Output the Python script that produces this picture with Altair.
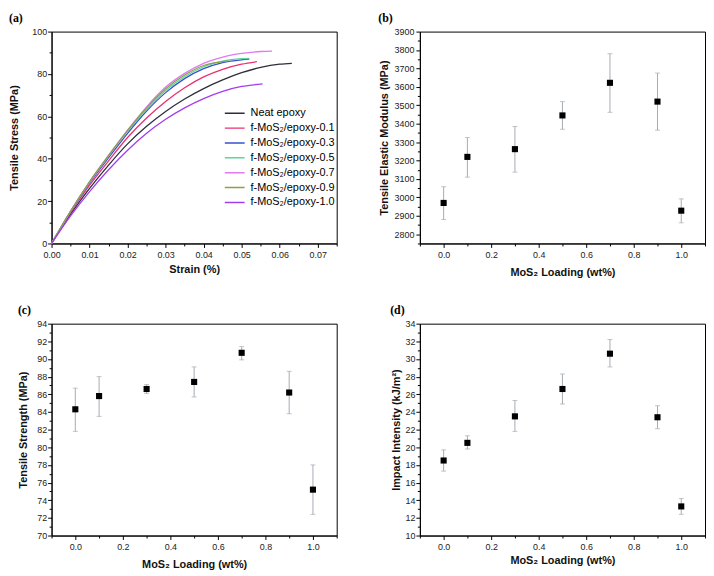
import altair as alt
import pandas as pd

# ---------------- Panel (a): stress-strain curves ----------------
series_names = ["Neat epoxy", "f-MoS₂/epoxy-0.1", "f-MoS₂/epoxy-0.3", "f-MoS₂/epoxy-0.5",
                "f-MoS₂/epoxy-0.7", "f-MoS₂/epoxy-0.9", "f-MoS₂/epoxy-1.0"]
series_colors = ["#2e2e3a", "#e8306f", "#3a4fd2", "#5fd49e", "#e27af0", "#8aa04a", "#a23cf2"]

strain_neat = [0, .005, .01, .015, .02, .025, .03, .035, .04, .045, .05, .055, .06, .0632]
stress_neat = [0, 13.8, 26, 37, 47, 55.3, 62.3, 68.2, 73.1, 77.2, 80.6, 83.1, 84.6, 85.0]
strain_01 = [0, .005, .01, .015, .02, .025, .03, .035, .04, .045, .05, .054]
stress_01 = [0, 14.5, 27.5, 39, 50, 59.2, 67, 73.5, 78.6, 82.2, 84.6, 85.8]
strain_03 = [0, .005, .01, .015, .02, .025, .03, .035, .04, .045, .05, .052]
stress_03 = [0, 15, 28.5, 40.5, 52, 62.5, 71.2, 77.8, 82.5, 85.4, 86.7, 87.0]
strain_05 = [0, .005, .01, .015, .02, .025, .03, .035, .04, .045, .05, .052]
stress_05 = [0, 15.2, 29, 41.3, 53, 63.3, 72.2, 78.7, 83.4, 86.1, 87.2, 87.4]
strain_07 = [0, .005, .01, .015, .02, .025, .03, .035, .04, .045, .05, .055, .058]
stress_07 = [0, 15.2, 29, 41.5, 53.5, 64.5, 73.8, 80.3, 85.0, 88.0, 89.7, 90.6, 90.8]
strain_09 = [0, .005, .01, .015, .02, .025, .03, .035, .04, .0465]
stress_09 = [0, 15.3, 29.2, 41.6, 53.4, 64, 73, 79.5, 84, 86.2]
strain_10 = [0, .005, .01, .015, .02, .025, .03, .035, .04, .045, .05, .0555]
stress_10 = [0, 13, 24.5, 34.8, 44, 52, 58.6, 64, 68.4, 71.8, 74.1, 75.3]

# ---------------- Panels (b)-(d) ----------------
loading = [0.0, 0.1, 0.3, 0.5, 0.7, 0.9, 1.0]
modulus = [2970, 3220, 3262, 3445, 3622, 3520, 2928]
modulus_lo = [2880, 3110, 3137, 3370, 3462, 3365, 2862]
modulus_hi = [3058, 3325, 3385, 3520, 3780, 3675, 2992]
strength = [84.3, 85.8, 86.6, 87.4, 90.7, 86.2, 75.2]
strength_lo = [81.8, 83.5, 86.1, 85.7, 89.9, 83.8, 72.4]
strength_hi = [86.7, 88.0, 87.1, 89.1, 91.4, 88.6, 78.0]
impact = [18.5, 20.5, 23.5, 26.6, 30.6, 23.4, 13.3]
impact_lo = [17.3, 19.8, 21.8, 24.9, 29.1, 22.1, 12.4]
impact_hi = [19.7, 21.3, 25.3, 28.3, 32.2, 24.7, 14.2]

ERR = "#a4acb4"
W, H = 288, 214

curve_sets = [(strain_neat, stress_neat), (strain_01, stress_01), (strain_03, stress_03),
              (strain_05, stress_05), (strain_07, stress_07), (strain_09, stress_09),
              (strain_10, stress_10)]
rows = []
for name, (xs, ys) in zip(series_names, curve_sets):
    for i, (sx, sy) in enumerate(zip(xs, ys)):
        rows.append({"series": name, "strain": sx, "stress": sy, "i": i})
df_a = pd.DataFrame(rows)


def panel_title(txt):
    return alt.TitleParams(txt, anchor="start", frame="bounds", font="Liberation Serif",
                           fontSize=12, fontWeight="bold", color="black", offset=3)


xs_a = alt.Scale(domain=[0, 0.075], nice=False, zero=False)
ys_a = alt.Scale(domain=[0, 100], nice=False)
curves = alt.Chart(df_a).mark_line(strokeWidth=1.3, interpolate="monotone").encode(
    x=alt.X("strain:Q", scale=xs_a,
            axis=alt.Axis(orient="bottom", values=[0, .01, .02, .03, .04, .05, .06, .07],
                          format=".2f", title="Strain (%)", labelPadding=3, titlePadding=4)),
    y=alt.Y("stress:Q", scale=ys_a,
            axis=alt.Axis(orient="left", values=[0, 20, 40, 60, 80, 100], format="d",
                          title="Tensile Stress (MPa)", labelPadding=1, titlePadding=12)),
    color=alt.Color("series:N", scale=alt.Scale(domain=series_names, range=series_colors),
                    legend=alt.Legend(orient="none", legendX=174, legendY=75, title=None,
                                      symbolType="stroke", symbolSize=400,
                                      symbolStrokeWidth=1.5, labelFontSize=11,
                                      labelFont="Liberation Sans", labelColor="black",
                                      clipHeight=15, rowPadding=0, labelOffset=5,
                                      padding=0)),
    order="i:Q",
)
minor_a = alt.Chart(df_a).mark_point(opacity=0).encode(
    x=alt.X("strain:Q", scale=xs_a,
            axis=alt.Axis(orient="bottom", values=[.005, .015, .025, .035, .045, .055, .065, .075],
                          labels=False, title=None, domain=False, tickSize=2.5)),
    y=alt.Y("stress:Q", scale=ys_a,
            axis=alt.Axis(orient="left", values=[10, 30, 50, 70, 90], labels=False, title=None,
                          domain=False, tickSize=2.5)),
)
chart_a = alt.layer(minor_a, curves).resolve_axis(x="independent", y="independent").properties(
    width=W, height=H, title=panel_title("(a)"))


def scatter_panel(vals, lo, hi, ydom, ymajor, yminor, ytitle, label, ytp, xtp, ylp):
    df = pd.DataFrame({"load": loading, "v": vals, "lo": lo, "hi": hi})
    xsc = alt.Scale(domain=[-0.1, 1.1], nice=False, zero=False)
    ysc = alt.Scale(domain=ydom, nice=False, zero=False)
    base = alt.Chart(df)
    rules = base.mark_rule(color=ERR, strokeWidth=1).encode(
        x=alt.X("load:Q", scale=xsc,
                axis=alt.Axis(orient="bottom", values=[0, 0.2, 0.4, 0.6, 0.8, 1.0], format=".1f",
                              title="MoS₂ Loading (wt%)", labelPadding=3, titlePadding=xtp)),
        y=alt.Y("lo:Q", scale=ysc,
                axis=alt.Axis(orient="left", values=ymajor, format="d", title=ytitle,
                              labelPadding=ylp, titlePadding=ytp)),
        y2="hi:Q",
    )
    cap_lo = base.mark_tick(orient="horizontal", size=5, thickness=1, color=ERR).encode(
        x=alt.X("load:Q", scale=xsc, axis=None), y=alt.Y("lo:Q", scale=ysc, axis=None))
    cap_hi = base.mark_tick(orient="horizontal", size=5, thickness=1, color=ERR).encode(
        x=alt.X("load:Q", scale=xsc, axis=None), y=alt.Y("hi:Q", scale=ysc, axis=None))
    pts = base.mark_square(size=38, color="black", opacity=1).encode(
        x=alt.X("load:Q", scale=xsc, axis=None), y=alt.Y("v:Q", scale=ysc, axis=None))
    minor = base.mark_point(opacity=0).encode(
        x=alt.X("load:Q", scale=xsc,
                axis=alt.Axis(orient="bottom", values=[-0.1, 0.1, 0.3, 0.5, 0.7, 0.9, 1.1],
                              labels=False, title=None, domain=False, tickSize=2.5)),
        y=alt.Y("v:Q", scale=ysc,
                axis=alt.Axis(orient="left", values=yminor, labels=False, title=None,
                              domain=False, tickSize=2.5)),
    )
    return alt.layer(minor, rules, cap_lo, cap_hi, pts).resolve_axis(
        x="independent", y="independent").properties(width=W, height=H,
                                                     title=panel_title(label))


chart_b = scatter_panel(modulus, modulus_lo, modulus_hi, [2750, 3900],
                        list(range(2800, 3901, 100)), list(range(2750, 3900, 100)),
                        "Tensile Elastic Modulus (MPa)", "(b)", 5, 7, 2)
chart_c = scatter_panel(strength, strength_lo, strength_hi, [70, 94],
                        list(range(70, 95, 2)), list(range(71, 94, 2)),
                        "Tensile Strength (MPa)", "(c)", 8, 7, 1)
chart_d = scatter_panel(impact, impact_lo, impact_hi, [10, 34],
                        list(range(10, 35, 2)), list(range(11, 34, 2)),
                        "Impact Intensity (kJ/m²)", "(d)", 4, 3, 1)

chart = alt.concat(chart_a, chart_b, chart_c, chart_d, columns=2,
                   spacing={"row": 81, "column": 84}, bounds="flush").properties(
    padding=0
).configure_view(stroke="black", strokeWidth=1).configure_axis(
    domainColor="black", tickColor="black", labelColor="#222", titleColor="#111",
    labelFont="Liberation Sans", titleFont="Liberation Sans", labelFontSize=9,
    titleFontSize=11, titleFontWeight="bold", grid=False, tickSize=4, domainWidth=1,
    labelFlush=False,
)

chart.save("out.html", embed_options={"renderer": "svg", "actions": False})
